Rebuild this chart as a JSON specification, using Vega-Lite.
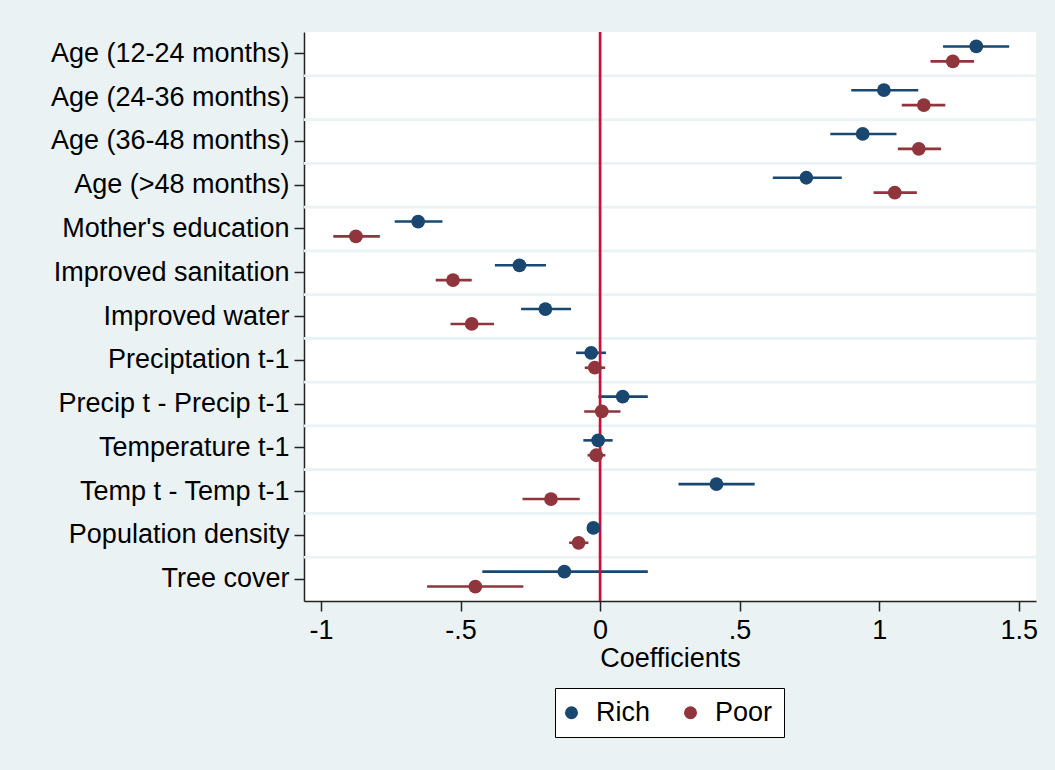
{
  "$schema": "https://vega.github.io/schema/vega-lite/v6.json",
  "width": 732,
  "height": 569,
  "autosize": {"type": "none"},
  "padding": {"left": 304, "top": 32, "right": 19, "bottom": 169},
  "background": "#EAF2F3",
  "config": {
    "view": {"fill": "white", "stroke": null},
    "font": "Liberation Sans"
  },
  "data": {
    "values": [
      {"var": "Age (12-24 months)", "series": "Rich", "coef": 1.348, "lo": 1.229, "hi": 1.466},
      {"var": "Age (12-24 months)", "series": "Poor", "coef": 1.264, "lo": 1.184, "hi": 1.340},
      {"var": "Age (24-36 months)", "series": "Rich", "coef": 1.017, "lo": 0.900, "hi": 1.140},
      {"var": "Age (24-36 months)", "series": "Poor", "coef": 1.160, "lo": 1.081, "hi": 1.237},
      {"var": "Age (36-48 months)", "series": "Rich", "coef": 0.941, "lo": 0.825, "hi": 1.062},
      {"var": "Age (36-48 months)", "series": "Poor", "coef": 1.142, "lo": 1.067, "hi": 1.222},
      {"var": "Age (>48 months)", "series": "Rich", "coef": 0.739, "lo": 0.619, "hi": 0.866},
      {"var": "Age (>48 months)", "series": "Poor", "coef": 1.056, "lo": 0.980, "hi": 1.135},
      {"var": "Mother's education", "series": "Rich", "coef": -0.652, "lo": -0.736, "hi": -0.565},
      {"var": "Mother's education", "series": "Poor", "coef": -0.875, "lo": -0.956, "hi": -0.789},
      {"var": "Improved sanitation", "series": "Rich", "coef": -0.289, "lo": -0.377, "hi": -0.194},
      {"var": "Improved sanitation", "series": "Poor", "coef": -0.527, "lo": -0.589, "hi": -0.460},
      {"var": "Improved water", "series": "Rich", "coef": -0.196, "lo": -0.283, "hi": -0.104},
      {"var": "Improved water", "series": "Poor", "coef": -0.460, "lo": -0.536, "hi": -0.380},
      {"var": "Preciptation t-1", "series": "Rich", "coef": -0.032, "lo": -0.086, "hi": 0.021},
      {"var": "Preciptation t-1", "series": "Poor", "coef": -0.019, "lo": -0.055, "hi": 0.018},
      {"var": "Precip t - Precip t-1", "series": "Rich", "coef": 0.081, "lo": -0.006, "hi": 0.171},
      {"var": "Precip t - Precip t-1", "series": "Poor", "coef": 0.006, "lo": -0.057, "hi": 0.073},
      {"var": "Temperature t-1", "series": "Rich", "coef": -0.007, "lo": -0.060, "hi": 0.045},
      {"var": "Temperature t-1", "series": "Poor", "coef": -0.014, "lo": -0.045, "hi": 0.019},
      {"var": "Temp t - Temp t-1", "series": "Rich", "coef": 0.417, "lo": 0.281, "hi": 0.554},
      {"var": "Temp t - Temp t-1", "series": "Poor", "coef": -0.176, "lo": -0.278, "hi": -0.073},
      {"var": "Population density", "series": "Rich", "coef": -0.024, "lo": -0.032, "hi": -0.016},
      {"var": "Population density", "series": "Poor", "coef": -0.077, "lo": -0.111, "hi": -0.042},
      {"var": "Tree cover", "series": "Rich", "coef": -0.128, "lo": -0.422, "hi": 0.171},
      {"var": "Tree cover", "series": "Poor", "coef": -0.447, "lo": -0.620, "hi": -0.275}
    ]
  },
  "layer": [
    {
      "transform": [
        {"filter": "datum.series == 'Rich' && datum.var != 'Age (12-24 months)'"}
      ],
      "mark": {"type": "rule", "color": "#EAF2F3", "strokeWidth": 2.7},
      "encoding": {
        "y": {
          "field": "var",
          "type": "nominal",
          "bandPosition": 0,
          "scale": {
            "type": "band",
            "domain": ["Age (12-24 months)", "Age (24-36 months)", "Age (36-48 months)", "Age (>48 months)", "Mother's education", "Improved sanitation", "Improved water", "Preciptation t-1", "Precip t - Precip t-1", "Temperature t-1", "Temp t - Temp t-1", "Population density", "Tree cover"],
            "paddingInner": 0,
            "paddingOuter": 0
          },
          "axis": {
            "title": null,
            "grid": false,
            "domain": true,
            "domainColor": "#222222",
            "domainWidth": 1.5,
            "ticks": true,
            "tickColor": "#222222",
            "tickWidth": 1.5,
            "tickSize": 10,
            "labelFontSize": 27,
            "labelColor": "#000000",
            "labelPadding": 5,
            "labelLimit": 400
          }
        }
      }
    },
    {
      "mark": {"type": "rule", "strokeWidth": 2.6},
      "encoding": {
        "y": {"field": "var", "type": "nominal"},
        "yOffset": {
          "field": "series",
          "type": "nominal",
          "scale": {"type": "band", "domain": ["Rich", "Poor"], "paddingInner": 0, "paddingOuter": 0.47}
        },
        "x": {
          "field": "lo",
          "type": "quantitative",
          "scale": {"domain": [-1.061, 1.562], "nice": false, "zero": false}
        },
        "x2": {"field": "hi"},
        "color": {
          "field": "series",
          "type": "nominal",
          "scale": {"domain": ["Rich", "Poor"], "range": ["#1A476F", "#90353B"]}
        }
      }
    },
    {
      "data": {"values": [{"z": 0}]},
      "mark": {"type": "rule", "color": "#C8103A", "strokeWidth": 2.7},
      "encoding": {
        "x": {"field": "z", "type": "quantitative"}
      }
    },
    {
      "mark": {"type": "point", "filled": true, "size": 190, "opacity": 1},
      "encoding": {
        "y": {"field": "var", "type": "nominal"},
        "yOffset": {"field": "series", "type": "nominal"},
        "x": {
          "field": "coef",
          "type": "quantitative",
          "axis": {
            "values": [-1, -0.5, 0, 0.5, 1, 1.5],
            "labelExpr": "replace(toString(datum.value), '0.', '.')",
            "title": "Coefficients",
            "titleFontSize": 27,
            "titleFontWeight": "normal",
            "titleColor": "#000000",
            "titlePadding": 2,
            "labelFontSize": 27,
            "labelColor": "#000000",
            "labelPadding": 6,
            "grid": false,
            "domainColor": "#222222",
            "domainWidth": 1.5,
            "tickColor": "#222222",
            "tickWidth": 1.5,
            "tickSize": 10
          }
        },
        "color": {
          "field": "series",
          "type": "nominal",
          "scale": {"domain": ["Rich", "Poor"], "range": ["#1A476F", "#90353B"]},
          "legend": {
            "orient": "none",
            "legendX": 251,
            "legendY": 656,
            "direction": "horizontal",
            "title": null,
            "fillColor": "white",
            "strokeColor": "#000000",
            "padding": 11,
            "labelFontSize": 27,
            "labelColor": "#000000",
            "symbolType": "circle",
            "symbolSize": 170,
            "symbolStrokeWidth": 0,
            "symbolOffset": -8,
            "columnPadding": 32,
            "labelOffset": 11
          }
        }
      }
    }
  ]
}
